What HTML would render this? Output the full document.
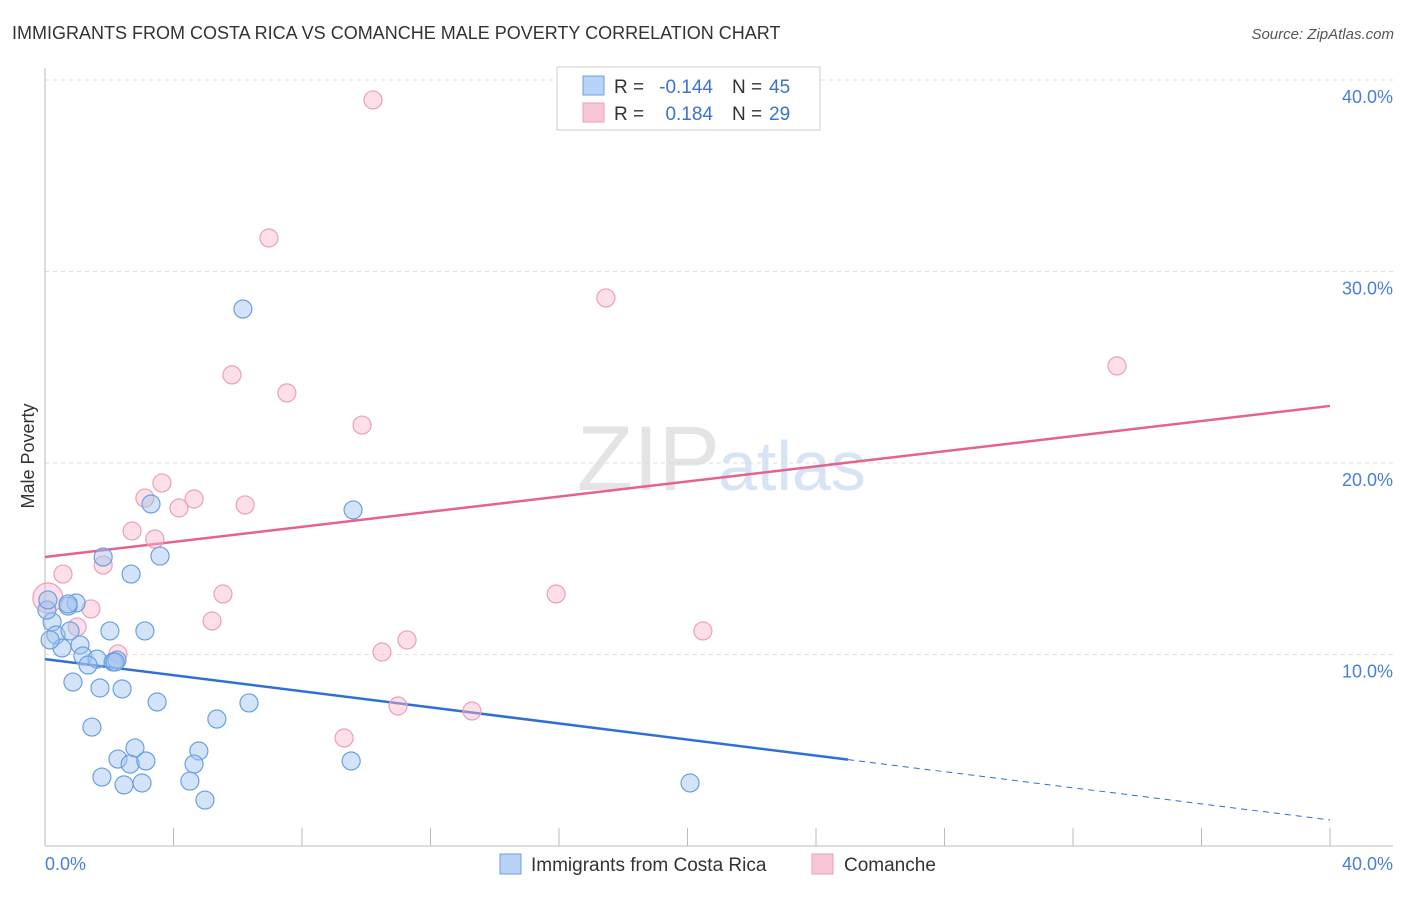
<!DOCTYPE html>
<html><head><meta charset="utf-8"><style>
body{margin:0;background:#fff;font-family:"Liberation Sans",sans-serif}
svg text{font-family:"Liberation Sans",sans-serif}
</style></head><body>
<svg width="1406" height="892">
<text x="12" y="39" font-size="18" fill="#333">IMMIGRANTS FROM COSTA RICA VS COMANCHE MALE POVERTY CORRELATION CHART</text>
<text x="1394" y="39" font-size="15" fill="#555" font-style="italic" text-anchor="end">Source: ZipAtlas.com</text>
<text x="720" y="490" font-size="92" fill="#e4e4e4" text-anchor="end" font-family="Liberation Serif">ZIP</text>
<text x="718" y="490" font-size="70" fill="#d6e4f5">atlas</text>
<g id="grid"></g>
<line x1="45" y1="68" x2="45" y2="846" stroke="#bbb"/>
<line x1="45" y1="846" x2="1393" y2="846" stroke="#bbb"/>
<g id="xticks"></g>
<text transform="translate(34,456) rotate(-90)" font-size="18" fill="#333" text-anchor="middle">Male Poverty</text>
<text x="45" y="870" font-size="18" fill="#4a7fd6">0.0%</text>
<text x="1393" y="870" font-size="18" fill="#4a7fd6" text-anchor="end">40.0%</text>
<g id="lines"></g>
<g id="points"></g>
<g>
<rect x="557" y="67" width="263" height="63" fill="#fff" stroke="#ccc"/>
<rect x="583" y="76" width="21" height="19" fill="#b8d3f5" stroke="#6a9fe0"/>
<rect x="583" y="103" width="21" height="19" fill="#f8c6d6" stroke="#eaa0b8"/>
<text x="614" y="93" font-size="19" fill="#333">R =</text>
<text x="713" y="93" font-size="19" fill="#3a73d0" text-anchor="end">-0.144</text>
<text x="732" y="93" font-size="19" fill="#333">N =</text>
<text x="769" y="93" font-size="19" fill="#3a73d0">45</text>
<text x="614" y="120" font-size="19" fill="#333">R =</text>
<text x="713" y="120" font-size="19" fill="#3a73d0" text-anchor="end">0.184</text>
<text x="732" y="120" font-size="19" fill="#333">N =</text>
<text x="769" y="120" font-size="19" fill="#3a73d0">29</text>
</g>
<g>
<rect x="500" y="854" width="21" height="20" fill="#b8d3f5" stroke="#6a9fe0"/>
<text x="531" y="871" font-size="19" fill="#333">Immigrants from Costa Rica</text>
<rect x="812" y="854" width="21" height="20" fill="#f8c6d6" stroke="#eaa0b8"/>
<text x="844" y="871" font-size="19" fill="#333">Comanche</text>
</g>
</svg>
<script>
const yTicks=[10,20,30,40];
const yTickLabels=["10.0%","20.0%","30.0%","40.0%"];
const blueX=[6.16,3.30,9.59,1.81,3.58,2.68,0.97,0.72,0.22,0.06,0.34,0.78,2.02,3.11,1.09,0.53,1.18,1.62,1.34,2.12,2.24,0.87,1.71,2.40,3.49,6.35,5.35,1.46,2.80,4.79,2.27,2.65,3.14,4.64,9.53,1.77,4.51,3.02,2.46,4.98,20.08,0.16,0.09,2.18,0.72];
const blueY=[28.04,17.86,17.55,15.09,15.14,14.20,12.69,12.53,11.70,12.32,11.02,11.23,11.23,11.23,10.50,10.34,9.92,9.76,9.45,9.61,9.71,8.56,8.25,8.20,7.52,7.47,6.63,6.21,5.12,4.96,4.54,4.28,4.44,4.28,4.44,3.60,3.39,3.29,3.19,2.40,3.29,10.76,12.85,9.61,12.64];
const pinkX=[10.21,6.97,17.46,33.37,5.82,7.53,9.87,3.64,3.11,4.64,4.17,6.23,2.71,3.42,1.81,0.56,5.54,15.91,0.09,1.43,1.00,5.20,11.27,20.48,10.49,2.27,9.31,10.99,13.29];
const pinkY=[38.96,31.75,28.62,25.07,24.60,23.66,21.98,18.96,18.17,18.12,17.65,17.81,16.45,16.03,14.67,14.20,13.16,13.16,12.95,12.38,11.44,11.75,10.76,11.23,10.13,10.03,5.64,7.31,7.05];
const blueTrend=[9.76,1.36];
const blueSolidEnd=25.0;
const pinkTrend=[15.09,22.98];
const NS="http://www.w3.org/2000/svg";
const sx=v=>45+v/40*1285, sy=v=>846-v*19.15;
function mk(t,a,p){const e=document.createElementNS(NS,t);for(const k in a)e.setAttribute(k,a[k]);p.appendChild(e);return e;}
const grid=document.getElementById('grid');
yTicks.forEach((t,i)=>{
 const l=mk('line',{x1:45,x2:1393,y1:sy(t),y2:sy(t),stroke:'#ddd','stroke-dasharray':'4,4'},grid);
 
 
 const tx=mk('text',{x:1393,y:sy(t)+23,'font-size':18,fill:'#4a7fd6','text-anchor':'end'},grid);
 tx.textContent=yTickLabels[i];
 
 
});
const xt=document.getElementById('xticks');
for(let i=1;i<=10;i++){
 const l=mk('line',{x1:sx(i*4),x2:sx(i*4),y1:828,y2:846,stroke:'#bbb'},xt);
 
 
}
const pts=document.getElementById('points');
pinkX.forEach((x,i)=>{
 const c=mk('circle',{cx:sx(x),cy:sy(pinkY[i]),r:x<0.5?15:9,fill:'rgba(248,185,205,0.45)',stroke:'#eaa0b8','stroke-width':1.2},pts);
 
 
});
blueX.forEach((x,i)=>{
 const c=mk('circle',{cx:sx(x),cy:sy(blueY[i]),r:9,fill:'rgba(160,195,240,0.45)',stroke:'#6a9fe0','stroke-width':1.2},pts);
 
 
});
const ln=document.getElementById('lines');
const by=x=>blueTrend[0]+(blueTrend[1]-blueTrend[0])*x/40;
let a=mk('line',{x1:sx(0),y1:sy(by(0)),x2:sx(blueSolidEnd),y2:sy(by(blueSolidEnd)),stroke:'#2f6fd6','stroke-width':2.5},ln);


a=mk('line',{x1:sx(blueSolidEnd),y1:sy(by(blueSolidEnd)),x2:sx(40),y2:sy(by(40)),stroke:'#2f6fd6','stroke-width':1,'stroke-dasharray':'6,5'},ln);


a=mk('line',{x1:sx(0),y1:sy(pinkTrend[0]),x2:sx(40),y2:sy(pinkTrend[1]),stroke:'#e4638d','stroke-width':2.5},ln);


</script>
</body></html>
